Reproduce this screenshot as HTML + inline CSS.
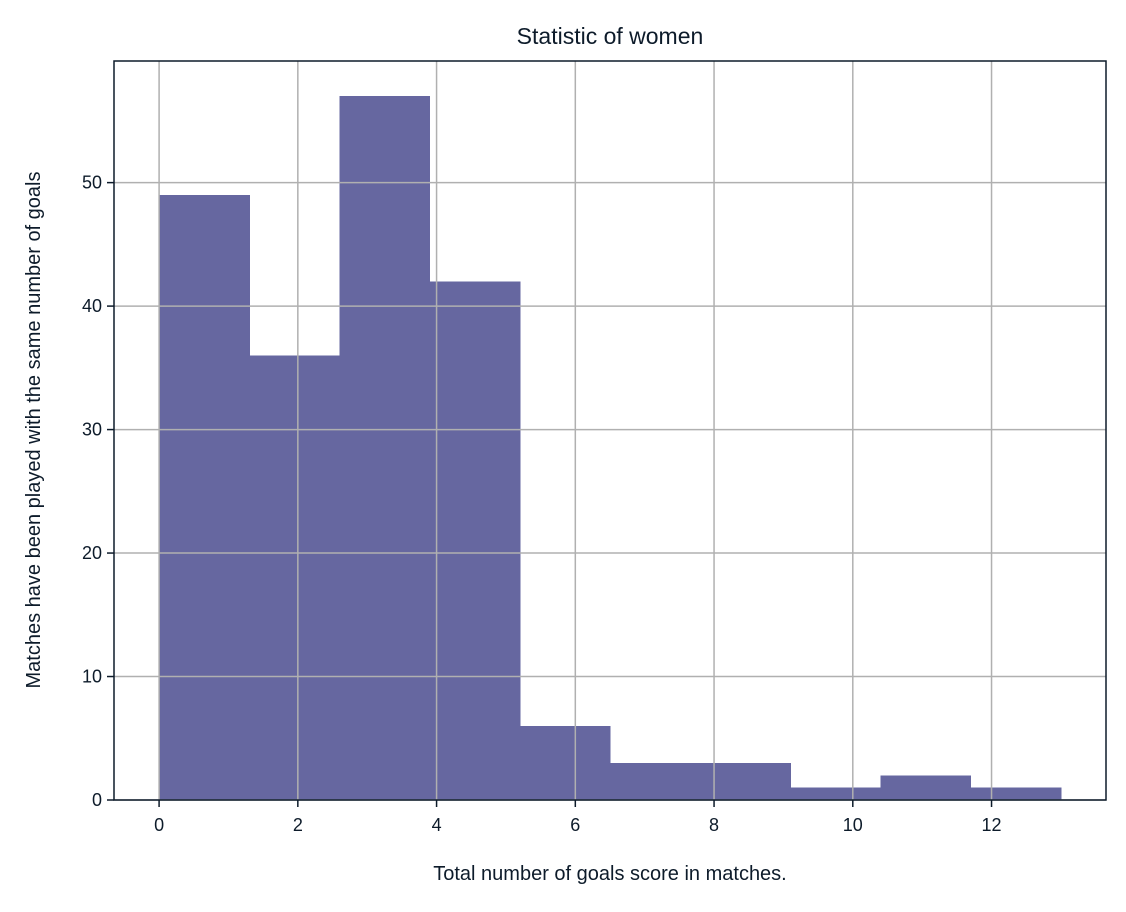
<!DOCTYPE html>
<html><head><meta charset="utf-8">
<style>
html,body{margin:0;padding:0;background:#fff;}
svg text{font-family:"Liberation Sans",sans-serif;fill:#0d1b2a;}
</style></head>
<body>
<svg id="chart" width="1126" height="907" xmlns="http://www.w3.org/2000/svg">
<rect width="1126" height="907" fill="#fff"/>
<g id="bars" shape-rendering="crispEdges"></g>
<g id="grid"></g>
<rect x="114" y="61" width="992" height="739" fill="none" stroke="#0d1b2a" stroke-width="1.5"/>
<g id="ticks"></g>
<text x="610" y="44" font-size="23" text-anchor="middle">Statistic of women</text>
<text x="610" y="880" font-size="20" text-anchor="middle">Total number of goals score in matches.</text>
<text transform="translate(40,430) rotate(-90)" font-size="20" text-anchor="middle">Matches have been played with the same number of goals</text>
</svg>
<script>
const binEdges = [0,1.3,2.6,3.9,5.2,6.5,7.8,9.1,10.4,11.7,13];
const counts = [49,36,57,42,6,3,3,1,2,1];
const xTicks = [0,2,4,6,8,10,12];
const yTicks = [0,10,20,30,40,50];
const X0=114,X1=1106,Y0=800,Y1=61;
const xMin=-0.65,xMax=13.65,yMin=0,yMax=59.85;
function sx(v){return X0+(v-xMin)/(xMax-xMin)*(X1-X0);}
function sy(v){return Y0-(v-yMin)/(yMax-yMin)*(Y0-Y1);}
const NS="http://www.w3.org/2000/svg";
function mk(t,a,p){const e=document.createElementNS(NS,t);for(const k in a)e.setAttribute(k,a[k]);p.appendChild(e);return e;}
const bars=document.getElementById('bars'),grid=document.getElementById('grid'),ticks=document.getElementById('ticks');
counts.forEach((c,i)=>{
  const r=mk('rect',{x:sx(binEdges[i]),y:sy(c),width:sx(binEdges[i+1])-sx(binEdges[i])+0.5,height:sy(0)-sy(c),fill:'#6667a0'},bars);
  
  
});
xTicks.forEach(v=>{
  const g=mk('line',{x1:sx(v),x2:sx(v),y1:Y1,y2:Y0,stroke:'#b0b0b0','stroke-width':1.5},grid);
  
  
  const t=mk('line',{x1:sx(v),x2:sx(v),y1:Y0,y2:Y0+7,stroke:'#0d1b2a','stroke-width':1.5},ticks);
  
  
  const l=mk('text',{x:sx(v),y:Y0+31,'font-size':18,'text-anchor':'middle'},ticks);
  l.textContent=v;
  
  
});
yTicks.forEach(v=>{
  const g=mk('line',{x1:X0,x2:X1,y1:sy(v),y2:sy(v),stroke:'#b0b0b0','stroke-width':1.5},grid);
  
  
  const t=mk('line',{x1:X0-7,x2:X0,y1:sy(v),y2:sy(v),stroke:'#0d1b2a','stroke-width':1.5},ticks);
  
  
  const l=mk('text',{x:X0-12,y:sy(v)+6,'font-size':18,'text-anchor':'end'},ticks);
  l.textContent=v;
  
  
});
</script>
</body></html>
